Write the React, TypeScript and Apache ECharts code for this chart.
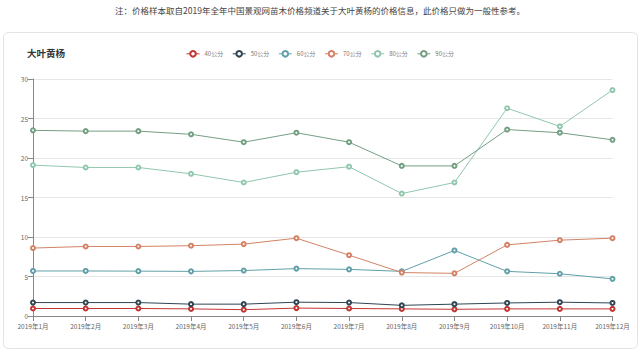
import React, { useEffect, useRef } from "react";
import * as echarts from "echarts";

const months = ["2019年1月","2019年2月","2019年3月","2019年4月","2019年5月","2019年6月","2019年7月","2019年8月","2019年9月","2019年10月","2019年11月","2019年12月"];
const seriesNames = ["40公分","50公分","60公分","70公分","80公分","90公分"];
const s40 = [0.95,0.95,0.95,0.9,0.8,1.0,0.95,0.9,0.85,0.9,0.9,0.9];
const s50 = [1.7,1.7,1.7,1.5,1.5,1.75,1.7,1.35,1.5,1.65,1.75,1.65];
const s60 = [5.7,5.7,5.68,5.65,5.75,6.0,5.9,5.65,8.3,5.65,5.35,4.7];
const s70 = [8.6,8.8,8.8,8.9,9.1,9.85,7.7,5.5,5.4,9.0,9.6,9.85];
const s80 = [19.1,18.8,18.8,18.0,16.9,18.2,18.9,15.5,16.9,26.3,24.0,28.6];
const s90 = [23.5,23.4,23.4,23.0,22.0,23.2,22.0,19.0,19.0,23.6,23.2,22.3];
const colors = ["#c23531","#2f4554","#61a0a8","#d48265","#91c7ae","#749f83"];
const noteText = "注：价格样本取自2019年全年中国景观网苗木价格频道关于大叶黄杨的价格信息，此价格只做为一般性参考。";
const titleText = "大叶黄杨";

export default function App() {
  const ref = useRef<HTMLDivElement>(null);
  useEffect(() => {
    if (!ref.current) return;
    const chart = echarts.init(ref.current, null, { renderer: "svg" });
    const data = [s40, s50, s60, s70, s80, s90];
    chart.setOption({
      animation: false,
      backgroundColor: "#fff",
      color: colors,
      textStyle: { fontFamily: "'Noto Sans CJK SC', 'Noto Sans', sans-serif" },
      graphic: [
        { type: "rect", shape: { x: 3.5, y: 32.5, width: 634, height: 316, r: 5 }, style: { fill: "none", stroke: "#e3e3e3", lineWidth: 1 }, z: -1 },
        { type: "text", x: 320, y: 10, style: { text: noteText, fill: "#444", fontSize: 8.5, align: "center", verticalAlign: "middle", fontFamily: "'Noto Sans CJK SC', sans-serif" } },
      ],
      title: { text: titleText, left: 22, top: 43, textStyle: { fontSize: 9.5, fontWeight: "bold", color: "#333" } },
      legend: {
        data: seriesNames,
        top: 45,
        left: "center",
        itemWidth: 13,
        itemHeight: 7,
        itemGap: 9,
        itemStyle: { borderWidth: 0.8 },
        lineStyle: { width: 1 },
        textStyle: { fontSize: 6, color: "#777" },
      },
      grid: { left: 33, right: 27.5, top: 79, bottom: 36 },
      xAxis: {
        type: "category",
        data: months,
        boundaryGap: false,
        axisLine: { lineStyle: { color: "#888" } },
        axisTick: { show: true, lineStyle: { color: "#888" } },
        axisLabel: { fontSize: 6.5, color: "#666", interval: 0, margin: 7 },
      },
      yAxis: {
        type: "value",
        min: 0,
        max: 30,
        interval: 5,
        axisLine: { show: true, lineStyle: { color: "#888" } },
        axisTick: { show: true, lineStyle: { color: "#888" } },
        axisLabel: { fontSize: 6.5, color: "#666", margin: 5 },
        splitLine: { lineStyle: { color: "#e6e6e6" } },
      },
      series: seriesNames.map((n, i) => ({
        name: n,
        type: "line",
        data: data[i],
        symbol: "emptyCircle",
        symbolSize: 4,
        lineStyle: { width: 1 },
        itemStyle: { borderWidth: 0.6 },
      })),
    });
    return () => chart.dispose();
  }, []);
  return <div ref={ref} style={{ position: "fixed", left: 0, top: 0, width: 640, height: 352, background: "#fff" }} />;
}
